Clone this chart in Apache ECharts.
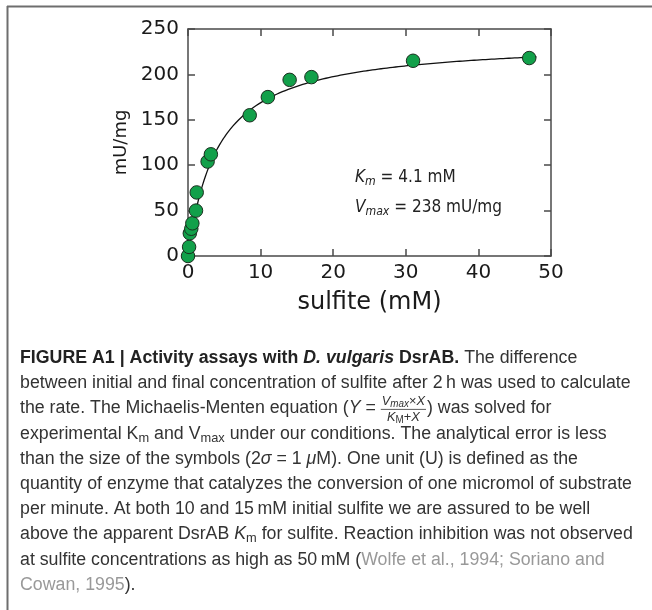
<!DOCTYPE html>
<html>
<head>
<meta charset="utf-8">
<script src="https://cdn.jsdelivr.net/npm/echarts@6/dist/echarts.min.js"></script>
<style>
  html, body { margin: 0; padding: 0; background: #fff; }
  #chart { width: 652px; height: 610px; }
</style>
</head>
<body>
<div id="chart"></div>
<script>
// Sulfite concentration (mM) and measured DsrAB activity (mU/mg)
const sulfite  = [0, 0.15, 0.25, 0.45, 0.6, 1.1, 1.2, 2.7, 3.15, 8.5, 11, 14, 17, 31, 47];
const activity = [0, 10, 25, 30, 36, 50, 70, 104, 112, 155, 175, 194, 197, 215, 218];

// Michaelis-Menten fit parameters (as printed on the plot)
const Km = 4.1;     // mM
const Vmax = 238;   // mU/mg
const fitEnd = 48;  // last sulfite value covered by the fitted curve

// Axis ranges and tick spacing
const xRange = [0, 50];
const xStep = 10;
const yRange = [0, 250];
const yStep = 50;

// Fitted curve: Y = Vmax * X / (Km + X)
const fitCurve = [];
for (let i = 0; i <= 240; i++) {
  const x = fitEnd * i / 240;
  fitCurve.push([x, Vmax * x / (Km + x)]);
}
const points = sulfite.map((x, i) => [x, activity[i]]);

// Plot box in pixels
const G = { left: 188, top: 29, width: 363, height: 227 };

const AXIS_FONT = '"DejaVu Sans", Verdana, sans-serif';
const CAP_FONT = '"Liberation Sans", Arial, Helvetica, sans-serif';
const axisColor = '#4a4a4a';

// Text measuring for the caption layout
const mctx = document.createElement('canvas').getContext('2d');
function tw(text, size, style, weight) {
  mctx.font = (style || 'normal') + ' ' + (weight || 'normal') + ' ' + size + 'px ' + CAP_FONT;
  return mctx.measureText(text).width;
}
function ctw(text, size, style) {
  mctx.font = (style || 'normal') + ' normal ' + size + 'px ' + AXIS_FONT;
  return mctx.measureText(text).width;
}

const CAP_SIZE = 18;
const capLeft = 20;
const capRight = 632;
const capScale = (capRight - capLeft) /
  tw('quantity of enzyme that catalyzes the conversion of one micromol of substrate', CAP_SIZE);
const capTop = 358;
const capGap = 25.2;

const capRich = {
  n:   { fontSize: CAP_SIZE, fontFamily: CAP_FONT, fill: '#333' },
  i:   { fontSize: CAP_SIZE, fontFamily: CAP_FONT, fontStyle: 'italic', fill: '#333' },
  b:   { fontSize: CAP_SIZE, fontFamily: CAP_FONT, fontWeight: 'bold', fill: '#222' },
  bi:  { fontSize: CAP_SIZE, fontFamily: CAP_FONT, fontWeight: 'bold', fontStyle: 'italic', fill: '#222' },
  sub: { fontSize: 13, fontFamily: CAP_FONT, fill: '#333', padding: [9, 0, 0, 0] },
  c:   { fontSize: CAP_SIZE, fontFamily: CAP_FONT, fill: '#999' },
  f:   { fontSize: 13, fontFamily: CAP_FONT, fill: '#333' },
  fi:  { fontSize: 13, fontFamily: CAP_FONT, fontStyle: 'italic', fill: '#333' },
  fs:  { fontSize: 10, fontFamily: CAP_FONT, fontStyle: 'italic', fill: '#333', padding: [5, 0, 0, 0] },
  fsu: { fontSize: 10, fontFamily: CAP_FONT, fill: '#333', padding: [5, 0, 0, 0] }
};

const captionLines = [
  '{b|FIGURE A1 | Activity assays with }{bi|D. vulgaris}{b| DsrAB.}{n| The difference}',
  '{n|between initial and final concentration of sulfite after 2\u2009h was used to calculate}',
  null, // equation line, laid out separately
  '{n|experimental K}{sub|m}{n| and V}{sub|max}{n| under our conditions. The analytical error is less}',
  '{n|than the size of the symbols (2}{i|\u03c3}{n| = 1 }{i|\u03bc}{n|M). One unit (U) is defined as the}',
  '{n|quantity of enzyme that catalyzes the conversion of one micromol of substrate}',
  '{n|per minute. At both 10 and 15\u2009mM initial sulfite we are assured to be well}',
  '{n|above the apparent DsrAB }{i|K}{sub|m}{n| for sulfite. Reaction inhibition was not observed}',
  '{n|at sulfite concentrations as high as 50\u2009mM (}{c|Wolfe et al., 1994; Soriano and}',
  '{c|Cowan, 1995}{n|).}'
];

const graphics = [];

// Panel frame (top and left rules)
graphics.push({ type: 'line', shape: { x1: 7, y1: 6.5, x2: 652, y2: 6.5 },
  style: { stroke: '#6e6e6e', lineWidth: 2 } });
graphics.push({ type: 'line', shape: { x1: 7.5, y1: 6, x2: 7.5, y2: 610 },
  style: { stroke: '#6e6e6e', lineWidth: 2 } });

// Caption lines
captionLines.forEach((txt, k) => {
  if (!txt) return;
  graphics.push({
    type: 'text', x: capLeft, y: capTop + k * capGap, scaleX: capScale,
    style: { text: txt, rich: capRich, verticalAlign: 'middle', align: 'left' }
  });
});

// Equation line with stacked fraction
(function () {
  const y = capTop + 2 * capGap;
  const pre = 'the rate. The Michaelis-Menten equation (';
  const preW = tw(pre, CAP_SIZE) + tw('Y', CAP_SIZE, 'italic') + tw(' = ', CAP_SIZE);
  graphics.push({
    type: 'text', x: capLeft, y: y, scaleX: capScale,
    style: { text: '{n|' + pre + '}{i|Y}{n| = }', rich: capRich, verticalAlign: 'middle' }
  });
  const numW = tw('V', 13, 'italic') + tw('max', 10, 'italic') + tw('\u00d7', 13) + tw('X', 13, 'italic');
  const fx = capLeft + preW * capScale;
  const fw = (numW + 2) * capScale;
  graphics.push({
    type: 'text', x: fx + fw / 2, y: y - 7, scaleX: capScale,
    style: { text: '{fi|V}{fs|max}{f|\u00d7}{fi|X}', rich: capRich, align: 'center', verticalAlign: 'middle' }
  });
  graphics.push({
    type: 'line', shape: { x1: fx, y1: y + 1, x2: fx + fw, y2: y + 1 },
    style: { stroke: '#333', lineWidth: 0.8 }
  });
  graphics.push({
    type: 'text', x: fx + fw / 2, y: y + 9, scaleX: capScale,
    style: { text: '{fi|K}{fsu|M}{f|+}{fi|X}', rich: capRich, align: 'center', verticalAlign: 'middle' }
  });
  graphics.push({
    type: 'text', x: fx + fw + 1, y: y, scaleX: capScale,
    style: { text: '{n|) was solved for}', rich: capRich, verticalAlign: 'middle' }
  });
})();

// Fit parameters printed inside the plot
const annRich = {
  n:  { fontSize: 17.5, fontFamily: AXIS_FONT, fill: '#222' },
  i:  { fontSize: 17.5, fontFamily: AXIS_FONT, fontStyle: 'italic', fill: '#222' },
  si: { fontSize: 12.5, fontFamily: AXIS_FONT, fontStyle: 'italic', fill: '#222', padding: [9, 0, 0, 0] }
};
const annW = ctw('V', 17.5, 'italic') + ctw('max', 12.5, 'italic') + ctw(' = ' + Vmax + ' mU/mg', 17.5);
const annScale = 147 / annW;
graphics.push({
  type: 'text', x: 355, y: 177, scaleX: annScale,
  style: { text: '{i|K}{si|m}{n| = ' + Km + ' mM}', rich: annRich, verticalAlign: 'middle' }
});
graphics.push({
  type: 'text', x: 355, y: 207, scaleX: annScale,
  style: { text: '{i|V}{si|max}{n| = ' + Vmax + ' mU/mg}', rich: annRich, verticalAlign: 'middle' }
});

const lineStyle = { color: axisColor, width: 1.5 };
function frameAxis(pos, range, step, extra) {
  return Object.assign({
    type: 'value', position: pos, min: range[0], max: range[1], interval: step,
    axisLine: { show: true, onZero: false, lineStyle: lineStyle },
    axisTick: { show: true, inside: true, length: 7, lineStyle: lineStyle },
    axisLabel: { show: false },
    splitLine: { show: false }
  }, extra || {});
}
const tickLabel = (margin) => ({
  show: true, fontSize: 20, color: '#1a1a1a', fontFamily: AXIS_FONT, margin: margin,
  showMinLabel: true, showMaxLabel: true, hideOverlap: false
});

const option = {
  animation: false,
  backgroundColor: '#fff',
  grid: Object.assign({ outerBoundsMode: 'none', containLabel: false }, G),
  xAxis: [
    frameAxis('bottom', xRange, xStep, {
      axisLabel: tickLabel(7),
      name: 'sulfite (mM)', nameLocation: 'middle', nameGap: 35,
      nameTextStyle: { fontSize: 24, color: '#1a1a1a', fontFamily: AXIS_FONT }
    }),
    frameAxis('top', xRange, xStep)
  ],
  yAxis: [
    frameAxis('left', yRange, yStep, {
      axisLabel: tickLabel(9),
      name: 'mU/mg', nameLocation: 'middle', nameGap: 57,
      nameTextStyle: { fontSize: 18, color: '#1a1a1a', fontFamily: AXIS_FONT }
    }),
    frameAxis('right', yRange, yStep)
  ],
  series: [
    {
      type: 'line', data: fitCurve, xAxisIndex: 0, yAxisIndex: 0,
      showSymbol: false, smooth: false, silent: true,
      lineStyle: { color: '#111', width: 1.3 }, z: 2
    },
    {
      type: 'scatter', data: points, xAxisIndex: 0, yAxisIndex: 0,
      symbol: 'circle', symbolSize: 13.5,
      itemStyle: { color: '#12a04a', borderColor: '#1b2e1f', borderWidth: 1, opacity: 1 },
      z: 3
    }
  ],
  graphic: graphics
};

const chart = echarts.init(document.getElementById('chart'), null, { renderer: 'canvas' });
chart.setOption(option);
</script>
</body>
</html>
